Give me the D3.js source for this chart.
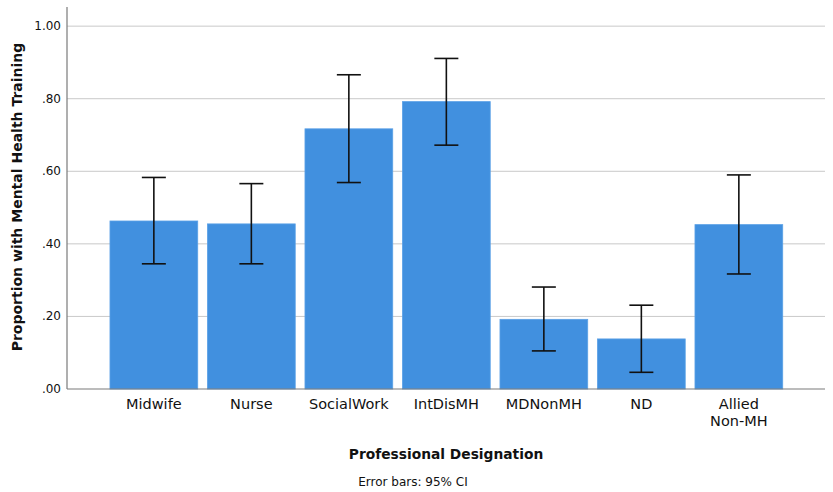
<!DOCTYPE html>
<html>
<head>
<meta charset="utf-8">
<script src="https://cdn.jsdelivr.net/npm/d3@7"></script>
<style>
  body { margin: 0; background: #fff; }
  text { font-family: "DejaVu Sans", "Open Sans", sans-serif; fill: #111; }
</style>
</head>
<body>
<div id="graph"></div>
<script>
// categories and values
const categories = ["Midwife", "Nurse", "SocialWork", "IntDisMH", "MDNonMH", "ND", "Allied\nNon-MH"];
const proportions = [0.463, 0.455, 0.717, 0.792, 0.192, 0.138, 0.453];
const ciLower = [0.345, 0.345, 0.569, 0.672, 0.105, 0.046, 0.317];
const ciUpper = [0.583, 0.566, 0.866, 0.911, 0.281, 0.231, 0.590];
const yTicks = [0, 0.2, 0.4, 0.6, 0.8, 1.0];

const width = 833, height = 492;
const plotLeft = 67, plotRight = 825, plotTop = 8, plotBottom = 389;

const svg = d3.select("#graph")
  .append("svg")
  .attr("width", width)
  .attr("height", height);

const data = categories.map((c, i) => ({
  name: c, value: proportions[i], lo: ciLower[i], hi: ciUpper[i]
}));

const x = d3.scaleBand()
  .domain(categories)
  .range([105.1, 787.6])
  .paddingInner(0.1)
  .paddingOuter(0.05);

const y = d3.scaleLinear()
  .domain([0, 1.05])
  .range([plotBottom, plotTop]);

// gridlines
svg.selectAll("line.grid")
  .data(yTicks.filter(d => d > 0))
  .enter()
  .append("line")
  .attr("x1", plotLeft)
  .attr("x2", plotRight)
  .attr("y1", d => y(d))
  .attr("y2", d => y(d))
  .attr("stroke", "#c9c9c9")
  .attr("stroke-width", 1);

// y tick labels
const fmt = d => d3.format(".2f")(d).replace(/^0/, "");
svg.selectAll("text.ytick")
  .data(yTicks)
  .enter()
  .append("text")
  .attr("x", plotLeft - 6)
  .attr("y", d => y(d) + 4)
  .attr("text-anchor", "end")
  .style("font-size", "12px")
  .text(fmt);

// bars
svg.selectAll("rect.bar")
  .data(data)
  .enter()
  .append("rect")
  .attr("x", d => x(d.name))
  .attr("y", d => y(d.value))
  .attr("width", x.bandwidth())
  .attr("height", d => y(0) - y(d.value))
  .attr("fill", "#4190df")
  .attr("stroke", "#5aa0e6")
  .attr("stroke-width", 0.8);

// error bars
const cap = 12;
const eb = svg.selectAll("g.err")
  .data(data)
  .enter()
  .append("g")
  .attr("stroke", "#111")
  .attr("stroke-width", 1.6);
eb.append("line")
  .attr("x1", d => x(d.name) + x.bandwidth() / 2)
  .attr("x2", d => x(d.name) + x.bandwidth() / 2)
  .attr("y1", d => y(d.lo))
  .attr("y2", d => y(d.hi));
eb.append("line")
  .attr("x1", d => x(d.name) + x.bandwidth() / 2 - cap)
  .attr("x2", d => x(d.name) + x.bandwidth() / 2 + cap)
  .attr("y1", d => y(d.hi))
  .attr("y2", d => y(d.hi));
eb.append("line")
  .attr("x1", d => x(d.name) + x.bandwidth() / 2 - cap)
  .attr("x2", d => x(d.name) + x.bandwidth() / 2 + cap)
  .attr("y1", d => y(d.lo))
  .attr("y2", d => y(d.lo));

// axes lines
svg.append("line")
  .attr("x1", plotLeft).attr("x2", plotLeft)
  .attr("y1", plotTop - 1).attr("y2", plotBottom)
  .attr("stroke", "#7a7a7a").attr("stroke-width", 1.2);
svg.append("line")
  .attr("x1", plotLeft).attr("x2", plotRight)
  .attr("y1", plotBottom).attr("y2", plotBottom)
  .attr("stroke", "#7a7a7a").attr("stroke-width", 1.2);

// category labels (multi-line)
const cat = svg.selectAll("text.cat")
  .data(categories)
  .enter()
  .append("text")
  .attr("x", d => x(d) + x.bandwidth() / 2)
  .attr("y", 409)
  .attr("text-anchor", "middle")
  .style("font-size", "14.5px");
cat.selectAll("tspan")
  .data(d => d.split("\n"))
  .enter()
  .append("tspan")
  .attr("x", function () { return d3.select(this.parentNode).attr("x"); })
  .attr("dy", (d, i) => i === 0 ? 0 : 16.5)
  .text(d => d);

// axis titles
svg.append("text")
  .attr("x", 446)
  .attr("y", 459)
  .attr("text-anchor", "middle")
  .style("font-size", "13.8px")
  .style("font-weight", "bold")
  .text("Professional Designation");

svg.append("text")
  .attr("transform", "translate(22," + 197 + ") rotate(-90)")
  .attr("text-anchor", "middle")
  .style("font-size", "14px")
  .style("font-weight", "bold")
  .text("Proportion with Mental Health Training");

svg.append("text")
  .attr("x", 413)
  .attr("y", 486)
  .attr("text-anchor", "middle")
  .style("font-size", "12px")
  .text("Error bars: 95% CI");
</script>
</body>
</html>
